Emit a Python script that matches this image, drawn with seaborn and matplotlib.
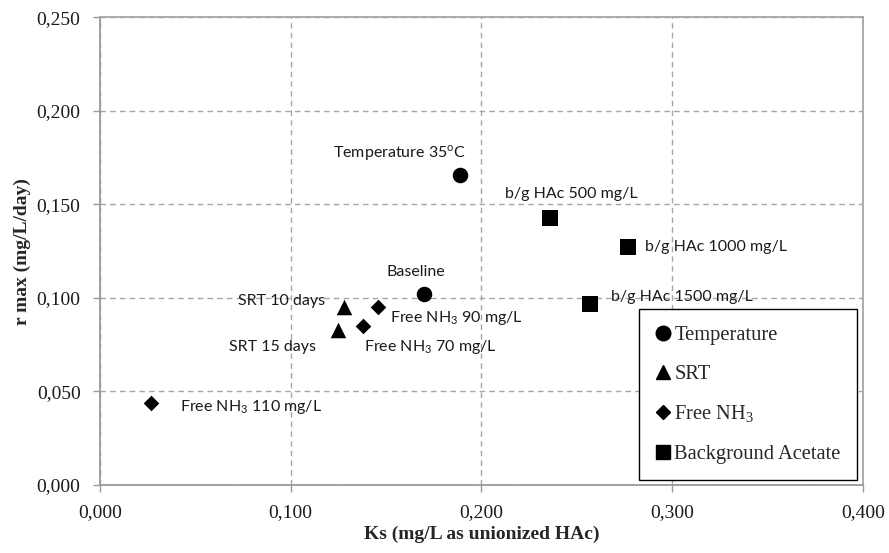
import matplotlib
matplotlib.use('Agg')
import matplotlib.pyplot as plt
import seaborn as sns
import pandas as pd
from matplotlib.lines import Line2D
from matplotlib.ticker import FuncFormatter, MultipleLocator

# data
groups = ['Temperature', 'Temperature',
          'SRT', 'SRT',
          'Free NH3', 'Free NH3', 'Free NH3',
          'Background Acetate', 'Background Acetate', 'Background Acetate']
ks = [0.189, 0.170,
      0.128, 0.125,
      0.146, 0.138, 0.027,
      0.236, 0.277, 0.257]
rmax = [0.166, 0.102,
        0.095, 0.083,
        0.095, 0.085, 0.044,
        0.143, 0.127, 0.097]
point_labels = ['Temperature 35$^{\\mathsf{o}}$C', 'Baseline',
                'SRT 10 days', 'SRT 15 days',
                'Free NH$_{\\mathsf{3}}$ 90 mg/L', 'Free NH$_{\\mathsf{3}}$ 70 mg/L',
                'Free NH$_{\\mathsf{3}}$ 110 mg/L',
                'b/g HAc 500 mg/L', 'b/g HAc 1000 mg/L', 'b/g HAc 1500 mg/L']
legend_names = ['Temperature', 'SRT', 'Free NH$_3$', 'Background Acetate']

# label placement: offset in pixels and alignment
label_pos = [((-61, 21), 'center'), ((-8, 22), 'center'),
             ((-19, 6), 'right'), ((-22, -17), 'right'),
             ((12, -11), 'left'), ((1, -21), 'left'), ((29, -4), 'left'),
             ((21, 24), 'center'), ((17, 0), 'left'), ((21, 7), 'left')]

markers = {'Temperature': 'o', 'SRT': '^', 'Free NH3': 'D', 'Background Acetate': 's'}
sizes = {'Temperature': 125, 'SRT': 125, 'Free NH3': 63, 'Background Acetate': 125}

df = pd.DataFrame({'group': groups, 'ks': ks, 'rmax': rmax, 'label': point_labels})

sns.set_style('white')
plt.rcParams['font.family'] = ['Liberation Serif', 'DejaVu Serif']
plt.rcParams['mathtext.fontset'] = 'custom'
plt.rcParams['mathtext.rm'] = 'Liberation Serif'
plt.rcParams['mathtext.sf'] = 'Lato'

fig = plt.figure(figsize=(8.89, 5.53), dpi=100)
ax = fig.add_axes([0.1125, 0.123, 0.858, 0.8455])

grid_c = '#a6a6a6'
for g in markers:
    sub = df[df['group'] == g]
    sns.scatterplot(x='ks', y='rmax', data=sub, marker=markers[g], s=sizes[g],
                    color='black', edgecolor='black', linewidth=0, ax=ax, zorder=3)

for i, row in df.iterrows():
    (dx, dy), ha = label_pos[i]
    ax.annotate(row['label'], (row['ks'], row['rmax']), xytext=(dx, dy),
                textcoords='offset pixels', ha=ha, va='center',
                fontsize=11.5, family=['Lato', 'DejaVu Sans'], color='#1a1a1a')

ax.set_xlim(0, 0.4)
ax.set_ylim(0, 0.25)
ax.xaxis.set_major_locator(MultipleLocator(0.1))
ax.yaxis.set_major_locator(MultipleLocator(0.05))
fmt = FuncFormatter(lambda v, p: f'{v:.3f}'.replace('.', ','))
ax.xaxis.set_major_formatter(fmt)
ax.yaxis.set_major_formatter(fmt)
ax.grid(True, color=grid_c, linestyle=(0, (4, 3)), linewidth=1)
ax.set_axisbelow(True)
ax.tick_params(axis='both', direction='out', length=5, width=1, color='#999999',
               labelsize=14, pad=9, bottom=True, left=True, labelcolor='#1a1a1a')
for side in ['left', 'bottom']:
    ax.spines[side].set_color('#999999')
    ax.spines[side].set_linewidth(1.3)
for side in ['top', 'right']:
    ax.spines[side].set_color(grid_c)
    ax.spines[side].set_linewidth(1.3)

ax.set_xlabel('Ks (mg/L as unionized HAc)', fontsize=14, fontweight='bold', labelpad=3)
ax.set_ylabel('r max (mg/L/day)', fontsize=14, fontweight='bold', labelpad=4)

handles = [Line2D([], [], linestyle='none', marker=markers[g], color='black',
                  markersize=(10.5 if markers[g] != 'D' else 7.5))
           for g in markers]
leg = ax.legend(handles, legend_names, loc='lower right', bbox_to_anchor=(0.9925, 0.01),
                prop={'family': 'Liberation Serif', 'size': 14.8}, frameon=True,
                fancybox=False, edgecolor='black', framealpha=1, handlelength=0.75,
                handletextpad=0.15, labelspacing=0.95, borderpad=0.8, borderaxespad=0)
leg.get_frame().set_linewidth(1)

fig.savefig('out.png', dpi=100)
